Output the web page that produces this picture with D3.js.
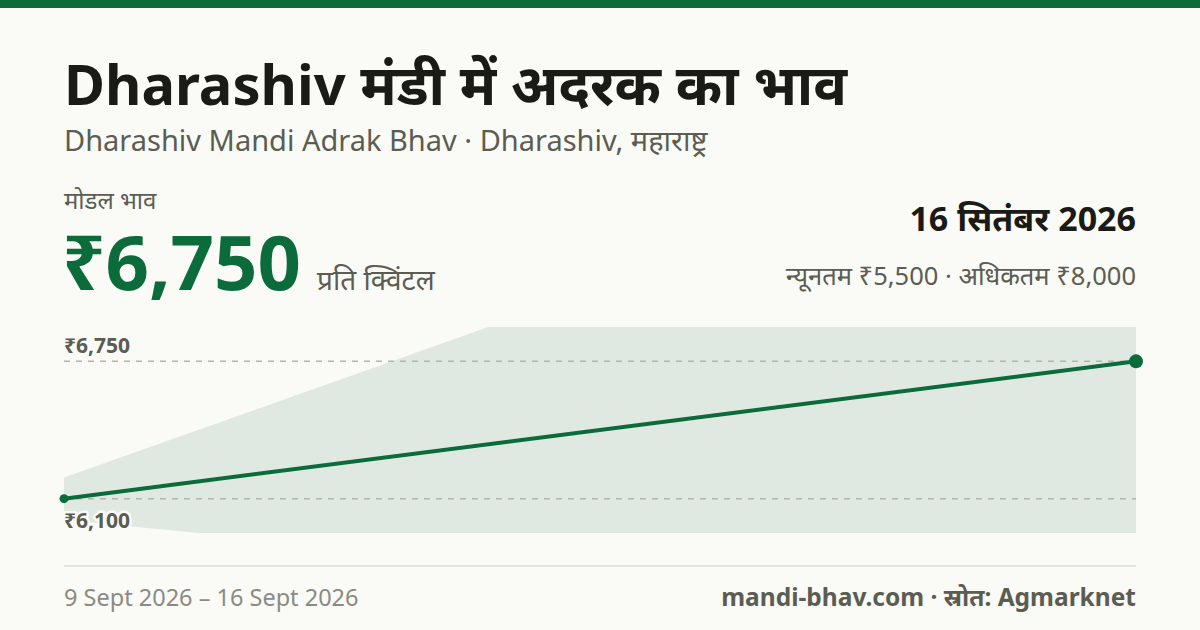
<!DOCTYPE html>
<html>
<head>
<meta charset="utf-8">
<script src="https://cdn.jsdelivr.net/npm/d3@7"></script>
<style>
  html, body { margin: 0; padding: 0; background: #fafaf6; }
  svg { display: block; font-family: "Noto Sans", "Noto Sans Devanagari", sans-serif; }
</style>
</head>
<body>
<svg id="chart" width="1200" height="630"></svg>
<script>
// data
var dates = ["9 Sept 2026", "16 Sept 2026"];
var modal = [6100, 6750];
var minPrice = [6000, 5500];
var maxPrice = [6200, 8000];
var priceLabels = ["₹6,750", "₹6,100"];

var green = "#0b6b3a",
    ink = "#1a1a16",
    grey = "#5b5d53",
    light = "#8a8b82",
    bg = "#fafaf6";

var svg = d3.select("#chart");

svg.append("rect").attr("width", 1200).attr("height", 630).attr("fill", bg);
svg.append("rect").attr("width", 1200).attr("height", 8).attr("fill", green);

// header
svg.append("text")
    .attr("x", 64).attr("y", 105)
    .attr("font-size", 56).attr("font-weight", 700).attr("fill", ink)
    .text("Dharashiv मंडी में अदरक का भाव");

svg.append("text")
    .attr("x", 64).attr("y", 151)
    .attr("font-size", 29).attr("fill", grey)
    .text("Dharashiv Mandi Adrak Bhav · Dharashiv, महाराष्ट्र");

svg.append("text")
    .attr("x", 64).attr("y", 209)
    .attr("font-size", 24).attr("fill", grey)
    .text("मोडल भाव");

var big = svg.append("text")
    .attr("x", 62).attr("y", 290)
    .attr("font-size", 76).attr("font-weight", 700).attr("fill", green)
    .text("₹" + d3.format(",")(modal[modal.length - 1]));

var bigW = big.node().getComputedTextLength();
svg.append("text")
    .attr("x", 62 + bigW + 16).attr("y", 290)
    .attr("font-size", 28).attr("fill", grey)
    .text("प्रति क्विंटल");

svg.append("text")
    .attr("x", 1136).attr("y", 231)
    .attr("text-anchor", "end")
    .attr("font-size", 34).attr("font-weight", 700).attr("fill", ink)
    .text("16 सितंबर 2026");

svg.append("text")
    .attr("x", 1136).attr("y", 285)
    .attr("text-anchor", "end")
    .attr("font-size", 25.5).attr("fill", grey)
    .text("न्यूनतम ₹" + d3.format(",")(minPrice[1]) + " · अधिकतम ₹" + d3.format(",")(maxPrice[1]));

// chart
var plotLeft = 64, plotRight = 1136, plotTop = 327, plotBottom = 533;
var lo = d3.min(modal), hi = d3.max(modal), pad = (hi - lo) * 0.25;

var x = d3.scalePoint().domain(dates).range([plotLeft, plotRight]);
var y = d3.scaleLinear().domain([lo - pad, hi + pad]).range([plotBottom, plotTop]);

var rows = dates.map(function(d, i) {
  return {date: d, modal: modal[i], min: minPrice[i], max: maxPrice[i]};
});

svg.append("clipPath").attr("id", "plot")
  .append("rect")
    .attr("x", plotLeft).attr("y", plotTop)
    .attr("width", plotRight - plotLeft).attr("height", plotBottom - plotTop);

var area = d3.area()
    .x(function(d) { return x(d.date); })
    .y0(function(d) { return y(d.min); })
    .y1(function(d) { return y(d.max); });

svg.append("path")
    .datum(rows)
    .attr("clip-path", "url(#plot)")
    .attr("fill", "#dfe9e1")
    .attr("d", area);

// reference lines for last and first modal price
var refs = [modal[modal.length - 1], modal[0]];
svg.selectAll(".ref")
    .data(refs)
  .enter().append("line")
    .attr("class", "ref")
    .attr("x1", plotLeft).attr("x2", plotRight)
    .attr("y1", function(d) { return y(d); })
    .attr("y2", function(d) { return y(d); })
    .attr("stroke", "#b3b5ab")
    .attr("stroke-width", 1.5)
    .attr("stroke-dasharray", "6 6");

var line = d3.line()
    .x(function(d) { return x(d.date); })
    .y(function(d) { return y(d.modal); });

svg.append("path")
    .datum(rows)
    .attr("fill", "none")
    .attr("stroke", green)
    .attr("stroke-width", 4)
    .attr("d", line);

svg.selectAll(".dot")
    .data(rows)
  .enter().append("circle")
    .attr("class", "dot")
    .attr("cx", function(d) { return x(d.date); })
    .attr("cy", function(d) { return y(d.modal); })
    .attr("r", function(d, i) { return i === rows.length - 1 ? 7 : 4.5; })
    .attr("fill", green);

svg.append("text")
    .attr("x", 64).attr("y", y(refs[0]) - 8)
    .attr("font-size", 21).attr("font-weight", 700).attr("fill", grey)
    .text(priceLabels[0]);

svg.append("text")
    .attr("x", 64).attr("y", y(refs[1]) + 29)
    .attr("font-size", 21).attr("font-weight", 700).attr("fill", grey)
    .attr("stroke", bg).attr("stroke-width", 5).attr("paint-order", "stroke")
    .attr("stroke-linejoin", "round")
    .text(priceLabels[1]);

// footer
svg.append("line")
    .attr("x1", 64).attr("x2", 1136)
    .attr("y1", 566).attr("y2", 566)
    .attr("stroke", "#e4e4dc").attr("stroke-width", 2);

svg.append("text")
    .attr("x", 64).attr("y", 606)
    .attr("font-size", 23.5).attr("fill", light)
    .text(dates[0] + " – " + dates[dates.length - 1]);

svg.append("text")
    .attr("x", 1136).attr("y", 606)
    .attr("text-anchor", "end")
    .attr("font-size", 24.5).attr("font-weight", 700).attr("fill", grey)
    .text("mandi-bhav.com · स्रोत: Agmarknet");
</script>
</body>
</html>
